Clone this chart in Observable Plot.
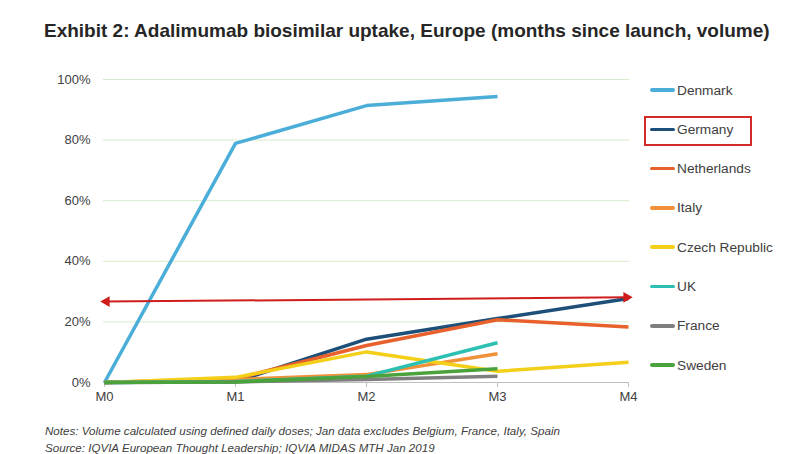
<!DOCTYPE html>
<html><head><meta charset="utf-8">
<script src="https://cdn.jsdelivr.net/npm/d3@7"></script>
<script src="https://cdn.jsdelivr.net/npm/@observablehq/plot@0.6"></script>
<style>
body{margin:0;background:#fff;font-family:"Liberation Sans",Arial,sans-serif;}
#wrap{position:relative;width:801px;height:454px;overflow:hidden;}
#title{position:absolute;left:44px;top:20px;font-size:19px;font-weight:bold;color:#262626;white-space:nowrap;}
#chart{position:absolute;left:0;top:60px;}
.leg{position:absolute;left:650px;font-size:13.7px;color:#404040;white-space:nowrap;display:flex;align-items:center;height:20px;}
.leg span.sw{display:inline-block;width:25px;height:3.5px;border-radius:2px;margin-right:2px;}
#box{position:absolute;left:644px;top:116px;width:104px;height:26px;border:2px solid #d42a2a;}
#notes{position:absolute;left:45px;top:422px;font-size:11.6px;font-style:italic;color:#404040;line-height:17px;white-space:nowrap;}
</style></head>
<body><div id="wrap">
<div id="title">Exhibit 2: Adalimumab biosimilar uptake, Europe (months since launch, volume)</div>
<div id="chart"></div>
<div id="legend"></div>
<div id="box"></div>
<div id="notes">Notes: Volume calculated using defined daily doses; Jan data excludes Belgium, France, Italy, Spain<br>Source: IQVIA European Thought Leadership; IQVIA MIDAS MTH Jan 2019</div>
</div>
<script>
const months = ["M0","M1","M2","M3","M4"];
const countries = ["Denmark","Germany","Netherlands","Italy","Czech Republic","UK","France","Sweden"];
const colors = ["#4aaed8","#1d4f78","#e8612c","#ef9138","#f4cf1a","#2cc0b2","#7f7f7f","#4aa23c"];
const denmark     = [0, 0.789, 0.914, 0.944, null];
const germany     = [0, 0.003, 0.143, 0.211, 0.277];
const netherlands = [0, 0.012, 0.122, 0.207, 0.183];
const italy       = [0, 0.010, 0.026, 0.095, null];
const czech       = [0, 0.017, 0.101, 0.037, 0.067];
const uk          = [0, 0.003, 0.021, 0.131, null];
const france      = [0, 0.002, 0.010, 0.021, null];
const sweden      = [0, 0.002, 0.020, 0.045, null];
const series = [denmark, germany, netherlands, italy, czech, uk, france, sweden];
const yTicks = [0, 0.2, 0.4, 0.6, 0.8, 1.0];
const arrowStart = {x: "M0", y: 0.267};
const arrowEnd = {x: "M4", y: 0.281};

const rows = [];
series.forEach((vals, i) => vals.forEach((v, j) => { if (v !== null) rows.push({country: countries[i], month: months[j], value: v}); }));

const plot = Plot.plot({
  width: 801, height: 350,
  marginLeft: 103, marginRight: 172, marginTop: 19, marginBottom: 28,
  style: {fontFamily: '"Liberation Sans", Arial, sans-serif', fontSize: "13px", color: "#404040", background: "transparent"},
  x: {type: "point", domain: months, padding: 0},
  y: {domain: [0, 1]},
  color: {domain: countries, range: colors},
  marks: [
    Plot.ruleY(yTicks.filter(d => d > 0), {stroke: "#d6ebcc", strokeWidth: 1}),
    Plot.ruleY([0], {stroke: "#bfbfbf", strokeWidth: 1}),
    Plot.axisY({ticks: yTicks, tickFormat: d => Math.round(d * 100) + "%", tickSize: 0, tickPadding: 13, label: null, fontSize: 13}),
    Plot.axisX({tickSize: 5, stroke: "#bfbfbf", tickPadding: 4, label: null, fontSize: 13}),
    Plot.line(rows, {x: "month", y: "value", z: "country", stroke: "country", strokeWidth: 3.5, strokeLinejoin: "round", strokeLinecap: "butt"}),
    Plot.link([{x1: arrowStart.x, y1: arrowStart.y, x2: arrowEnd.x, y2: arrowEnd.y}], {x1: "x1", y1: "y1", x2: "x2", y2: "y2", stroke: "#d01c1c", strokeWidth: 2}),
    Plot.dot([arrowStart], {x: "x", y: "y", symbol: "triangle", rotate: -90, r: 4, fill: "#d01c1c", stroke: "none", dx: 2}),
    Plot.dot([arrowEnd], {x: "x", y: "y", symbol: "triangle", rotate: 90, r: 4, fill: "#d01c1c", stroke: "none", dx: -2})
  ]
});
document.getElementById("chart").appendChild(plot);

const legend = document.getElementById("legend");
countries.forEach((c, i) => {
  const d = document.createElement("div");
  d.className = "leg";
  d.style.top = (80 + i * 39.3) + "px";
  d.innerHTML = `<span class="sw" style="background:${colors[i]}"></span>${c}`;
  legend.appendChild(d);
});
</script>
</body></html>
